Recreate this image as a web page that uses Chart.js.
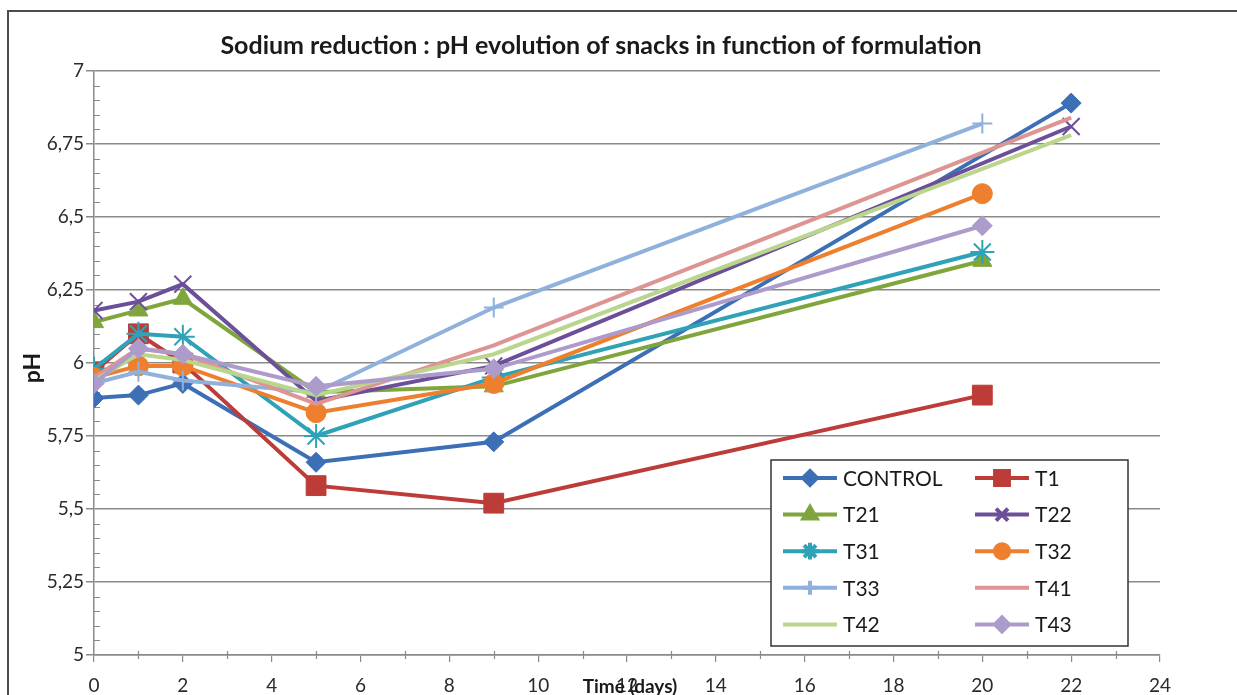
<!DOCTYPE html>
<html>
<head>
<meta charset="utf-8">
<script src="https://cdn.jsdelivr.net/npm/chart.js@4.4.1/dist/chart.umd.min.js"></script>
<style>
  html, body { margin: 0; padding: 0; background: #fff; overflow: hidden; }
  #frame { position: absolute; left: 7px; top: 10px; width: 1250px; height: 720px; border: 2px solid #4d4d4d; }
  #ph { position: absolute; left: 0; top: 0; }
</style>
</head>
<body>
<div id="frame"></div>
<canvas id="ph" width="1237" height="695"></canvas>
<script>
// sampling days
var days = [0, 1, 2, 5, 9, 20, 22];

// pH per formulation, null where no measurement
var control = [5.88, 5.89, 5.93, 5.66, 5.73, null, 6.89];
var t1 = [5.97, 6.10, 6.00, 5.58, 5.52, 5.89, null];
var t21 = [6.14, 6.18, 6.22, 5.90, 5.92, 6.35, null];
var t22 = [6.18, 6.21, 6.27, 5.87, 5.99, null, 6.81];
var t31 = [5.98, 6.10, 6.09, 5.75, 5.95, 6.38, null];
var t32 = [5.95, 5.99, 5.99, 5.83, 5.93, 6.58, null];
var t33 = [5.93, 5.97, 5.94, 5.90, 6.19, 6.82, null];
var t41 = [5.95, 6.05, 6.03, 5.86, 6.06, null, 6.84];
var t42 = [5.94, 6.03, 6.01, 5.89, 6.03, null, 6.78];
var t43 = [5.93, 6.05, 6.03, 5.92, 5.98, 6.47, null];

var seriesNames = ['CONTROL', 'T1', 'T21', 'T22', 'T31', 'T32', 'T33', 'T41', 'T42', 'T43'];
var seriesValues = [control, t1, t21, t22, t31, t32, t33, t41, t42, t43];

var yTicks = [5, 5.25, 5.5, 5.75, 6, 6.25, 6.5, 6.75, 7];

var colors = ['#3c6fb6', '#bd3c38', '#7fa53c', '#6b4f98', '#2fa2b7', '#ee7f2e', '#8fb1dc', '#dd9492', '#bad68c', '#ad9ccb'];
var markers = ['rectRot', 'rect', 'triangle', 'crossRot', 'star', 'circle', 'cross', false, false, 'rectRot'];
var markerSize = [10, 14, 11, 12, 12, 10, 10, 0, 0, 10];

var FONT = 'Lato, "Open Sans", sans-serif';

function toPoints(values) {
  var pts = [];
  values.forEach(function (v, i) {
    if (v !== null) pts.push({ x: days[i], y: v });
  });
  return pts;
}

var datasets = seriesNames.map(function (name, i) {
  var thin = markers[i] === 'crossRot' || markers[i] === 'cross' || markers[i] === 'star';
  return {
    label: name,
    data: toPoints(seriesValues[i]),
    borderColor: colors[i],
    backgroundColor: colors[i],
    borderWidth: 4,
    pointStyle: markers[i] || 'circle',
    pointRadius: markerSize[i],
    pointBackgroundColor: colors[i],
    pointBorderColor: colors[i],
    pointBorderWidth: thin ? 2 : 1,
    tension: 0,
    spanGaps: true,
    fill: false,
    order: seriesNames.length - i   // later series on top
  };
});

// titles, minor ticks and the boxed legend
var decorations = {
  id: 'decorations',
  beforeDatasetsDraw: function (chart) {
    var ctx = chart.ctx, xs = chart.scales.x, ys = chart.scales.y;
    ctx.save();
    ctx.strokeStyle = '#8a8a8a';
    ctx.lineWidth = 1.2;
    ctx.beginPath();
    for (var v = 5.05; v < 7; v += 0.05) {
      if (Math.abs(v * 4 - Math.round(v * 4)) < 0.01) continue;
      var py = Math.round(ys.getPixelForValue(v)) + 0.5;
      ctx.moveTo(xs.left, py);
      ctx.lineTo(xs.left + 6, py);
    }
    for (var d = 1; d < 24; d += 2) {
      var px = Math.round(xs.getPixelForValue(d)) + 0.5;
      ctx.moveTo(px, ys.bottom - 4);
      ctx.lineTo(px, ys.bottom + 4);
    }
    ctx.stroke();
    ctx.restore();
  },
  afterDraw: function (chart) {
    var ctx = chart.ctx, ys = chart.scales.y;
    ctx.save();
    ctx.fillStyle = '#1a1a1a';
    ctx.textAlign = 'center';
    ctx.textBaseline = 'middle';

    ctx.font = 'bold 25px ' + FONT;
    ctx.fillText('Sodium reduction : pH evolution of snacks in function of formulation', 601, 46);

    ctx.font = 'bold 19px ' + FONT;
    ctx.fillText('Time (days)', 630, 687);

    ctx.save();
    ctx.translate(33, (ys.top + ys.bottom) / 2 + 5);
    ctx.rotate(-Math.PI / 2);
    ctx.font = 'bold 23px ' + FONT;
    ctx.fillText('pH', 0, 0);
    ctx.restore();

    // legend box
    var bx = 771, by = 460, bw = 357, bh = 186;
    ctx.fillStyle = '#fff';
    ctx.fillRect(bx, by, bw, bh);
    ctx.strokeStyle = '#333';
    ctx.lineWidth = 1.5;
    ctx.strokeRect(bx, by, bw, bh);

    ctx.font = '21px ' + FONT;
    ctx.textAlign = 'left';
    chart.data.datasets.forEach(function (ds, i) {
      var col = i % 2, row = Math.floor(i / 2);
      var x0 = col === 0 ? 783 : 975;
      var cy = 478 + row * 36.6;
      ctx.strokeStyle = ds.borderColor;
      ctx.lineWidth = 4;
      ctx.beginPath();
      ctx.moveTo(x0, cy);
      ctx.lineTo(x0 + 54, cy);
      ctx.stroke();
      if (markers[i]) {
        ctx.fillStyle = ds.borderColor;
        ctx.strokeStyle = ds.borderColor;
        Chart.helpers.drawPoint(ctx, {
          pointStyle: markers[i],
          radius: markerSize[i] * 0.7,
          rotation: 0,
          borderWidth: ds.pointBorderWidth
        }, x0 + 27, cy);
      }
      ctx.fillStyle = '#1a1a1a';
      ctx.fillText(ds.label, x0 + 60, cy + 1);
    });
    ctx.restore();
  }
};

new Chart(document.getElementById('ph').getContext('2d'), {
  type: 'line',
  data: { datasets: datasets },
  options: {
    responsive: false,
    animation: false,
    layout: { padding: { top: 71, right: 77, bottom: 0, left: 0 } },
    plugins: {
      legend: { display: false },
      title: { display: false },
      tooltip: { enabled: false }
    },
    scales: {
      x: {
        type: 'linear',
        min: 0,
        max: 24,
        afterFit: function (scale) { scale.height = 40; },
        ticks: {
          stepSize: 2,
          padding: 12,
          color: '#2a2a2a',
          font: { family: FONT, size: 19 }
        },
        grid: { drawOnChartArea: false, drawTicks: true, tickLength: 7, color: '#8a8a8a', lineWidth: 1.2 },
        border: { color: '#8a8a8a', width: 1.5 }
      },
      y: {
        type: 'linear',
        min: 5,
        max: 7,
        afterFit: function (scale) { scale.width = 94; },
        afterBuildTicks: function (scale) {
          scale.ticks = yTicks.map(function (v) { return { value: v }; });
        },
        ticks: {
          padding: 2,
          color: '#2a2a2a',
          font: { family: FONT, size: 19 },
          callback: function (v) { return String(v).replace('.', ','); }
        },
        grid: { color: '#8a8a8a', lineWidth: 1.5, tickLength: 8 },
        border: { color: '#8a8a8a', width: 1.5 }
      }
    }
  },
  plugins: [decorations]
});
</script>
</body>
</html>
